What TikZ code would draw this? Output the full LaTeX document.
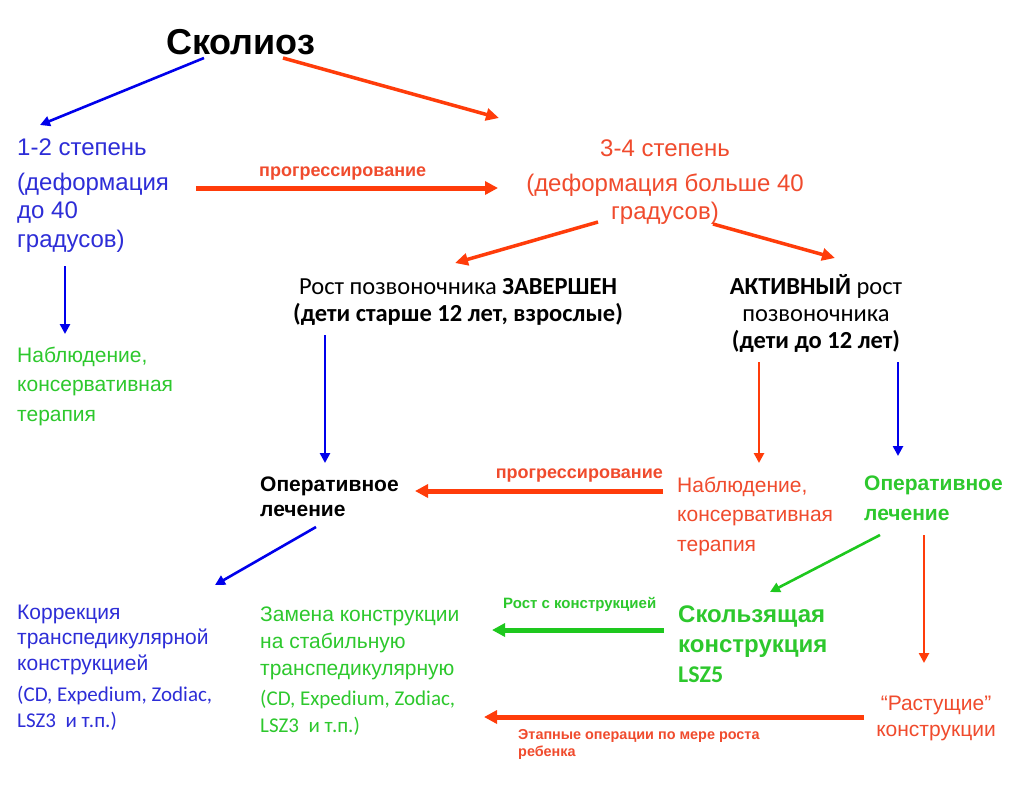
\documentclass[tikz,border=0pt]{standalone}
\usepackage{fontspec}
\setmainfont{Liberation Sans}
\newfontfamily\calibriFont{Carlito}
\usetikzlibrary{arrows.meta}
\definecolor{textBlueColor}{RGB}{45,45,215}
\definecolor{textRedColor}{RGB}{240,75,45}
\definecolor{textGreenColor}{RGB}{45,200,45}
\definecolor{arrowBlueColor}{RGB}{0,0,235}
\definecolor{arrowRedColor}{RGB}{255,60,10}
\definecolor{arrowGreenColor}{RGB}{30,200,30}
\newcommand{\sizeFont}[2]{\fontsize{#1}{#2}\selectfont}
\tikzstyle{slide} = [x = 1pt, y = -1pt, every node/.style={inner sep = 0, anchor = base west, align = left}]
\tikzstyle{titleText} = [font=\sizeFont{36}{40}\bfseries]
\tikzstyle{blueText} = [color=textBlueColor]
\tikzstyle{redText} = [color=textRedColor]
\tikzstyle{greenText} = [color=textGreenColor]
\tikzstyle{arrowLabel} = [font=\sizeFont{15}{17}\bfseries]
\tikzstyle{wideArrow} = [line width = 5pt, -{Triangle[length = 13pt, width = 13pt]}]
\tikzstyle{mediumArrow} = [line width = 3.5pt, -{Triangle[length = 13pt, width = 12pt]}]
\tikzstyle{thinArrow} = [line width = 2.6pt, -{Triangle[length = 10pt, width = 10pt]}]
\newcommand{\flowArrow}[4]{\draw [#1, draw = #2, fill = #2] (#3) -- (#4);}

\begin{document}
\begin{tikzpicture}[slide]
  \useasboundingbox [fill = white] (0,0) rectangle (1024,788);

  % texts (multi-line nodes sit on the baseline of their last line)
  \node [titleText] (title) at (166,54) {Сколиоз};
  \node [blueText, font=\sizeFont{24}{28.5}] (gradeLow) at (17,247)
    {1-2 степень\\[6pt](деформация\\до 40\\градусов)};
  \node [redText, font=\sizeFont{24}{28}, anchor = base, align = center] (gradeHigh) at (665,219)
    {3-4 степень\\[7pt](деформация больше 40\\градусов)};
  \node [font=\calibriFont\sizeFont{24.5}{27}, anchor = base, align = center] (spineDone) at (458,321)
    {Рост позвоночника \textbf{ЗАВЕРШЕН}\\\textbf{(дети старше 12 лет, взрослые)}};
  \node [font=\calibriFont\sizeFont{24.5}{27}, anchor = base, align = center] (spineActive) at (816,348)
    {\textbf{АКТИВНЫЙ} рост\\позвоночника\\\textbf{(дети до 12 лет)}};
  \node [greenText, font=\sizeFont{21}{29.5}] (watchLow) at (17,421)
    {Наблюдение,\\консервативная\\терапия};
  \node [font=\sizeFont{21}{25}\bfseries] (surgeryDone) at (260,516)
    {Оперативное\\лечение};
  \node [redText, font=\sizeFont{21}{29.5}] (watchActive) at (677,551)
    {Наблюдение,\\консервативная\\терапия};
  \node [greenText, font=\sizeFont{21}{30}\bfseries] (surgeryActive) at (864,520)
    {Оперативное\\лечение};
  \node [blueText, font=\sizeFont{21}{25.5}] (fixCorrection) at (17,727)
    {Коррекция\\транспедикулярной\\конструкцией\\[6pt]\calibriFont\sizeFont{21}{25}(CD, Expedium, Zodiac,\\\calibriFont\sizeFont{21}{25}LSZ3 \ и т.п.)};
  \node [greenText, font=\sizeFont{21}{27}] (fixReplace) at (260,732)
    {Замена конструкции\\на стабильную\\транспедикулярную\\[3pt]\calibriFont\sizeFont{21}{27}(CD, Expedium, Zodiac,\\\calibriFont\sizeFont{21}{27}LSZ3 \ и т.п.)};
  \node [greenText, font=\sizeFont{24}{30}\bfseries] (slideFix) at (678,682)
    {Скользящая\\конструкция\\\calibriFont\bfseries\sizeFont{24}{30}LSZ5};
  \node [redText, font=\sizeFont{21}{26}, anchor = base, align = center] (growFix) at (936,736)
    {“Растущие”\\конструкции};

  % arrow labels
  \node [redText, arrowLabel, font=\sizeFont{18}{20}\bfseries] (progressTop) at (259,176) {прогрессирование};
  \node [redText, arrowLabel, font=\sizeFont{18}{20}\bfseries, anchor = base east] (progressMid) at (663,478) {прогрессирование};
  \node [greenText, arrowLabel] (growWith) at (503,608) {Рост с конструкцией};
  \node [redText, arrowLabel, font=\sizeFont{14.4}{17}\bfseries] (stageOps) at (518,756)
    {Этапные операции по мере роста\\ребенка};

  % arrow ends
  \coordinate (titleLeft) at (204,58);
  \coordinate (titleRight) at (283,58);
  \coordinate (lowTop) at (40,125);
  \coordinate (highTop) at (499,118);
  \coordinate (progressStart) at (196,188);
  \coordinate (progressEnd) at (498,188);
  \coordinate (highLeft) at (598,222);
  \coordinate (highRight) at (713,224);
  \coordinate (doneTop) at (455,263);
  \coordinate (activeTop) at (835,258);
  \coordinate (lowBottom) at (65,266);
  \coordinate (watchLowTop) at (65,334);
  \coordinate (doneBottom) at (325,335);
  \coordinate (surgeryDoneTop) at (325,463);
  \coordinate (activeBottomLeft) at (759,362);
  \coordinate (watchActiveTop) at (759,463);
  \coordinate (activeBottomRight) at (898,362);
  \coordinate (surgeryActiveTop) at (898,456);
  \coordinate (watchActiveLeft) at (663,491);
  \coordinate (surgeryDoneRight) at (415,491);
  \coordinate (surgeryDoneBottom) at (316,527);
  \coordinate (correctionTop) at (215,585);
  \coordinate (surgeryActiveLeft) at (880,535);
  \coordinate (slideTop) at (770,592);
  \coordinate (surgeryActiveRight) at (924,535);
  \coordinate (growTop) at (924,663);
  \coordinate (slideLeft) at (664,630);
  \coordinate (replaceRight) at (492,630);
  \coordinate (growLeft) at (864,717);
  \coordinate (replaceLow) at (484,717);

  % arrows
  \flowArrow{thinArrow}{arrowBlueColor}{titleLeft}{lowTop}
  \flowArrow{mediumArrow}{arrowRedColor}{titleRight}{highTop}
  \flowArrow{wideArrow}{arrowRedColor}{progressStart}{progressEnd}
  \flowArrow{mediumArrow}{arrowRedColor}{highLeft}{doneTop}
  \flowArrow{mediumArrow}{arrowRedColor}{highRight}{activeTop}
  \flowArrow{thinArrow}{arrowBlueColor}{lowBottom}{watchLowTop}
  \flowArrow{thinArrow}{arrowBlueColor}{doneBottom}{surgeryDoneTop}
  \flowArrow{thinArrow}{arrowRedColor}{activeBottomLeft}{watchActiveTop}
  \flowArrow{thinArrow}{arrowBlueColor}{activeBottomRight}{surgeryActiveTop}
  \flowArrow{wideArrow}{arrowRedColor}{watchActiveLeft}{surgeryDoneRight}
  \flowArrow{thinArrow}{arrowBlueColor}{surgeryDoneBottom}{correctionTop}
  \flowArrow{thinArrow}{arrowGreenColor}{surgeryActiveLeft}{slideTop}
  \flowArrow{thinArrow}{arrowRedColor}{surgeryActiveRight}{growTop}
  \flowArrow{wideArrow}{arrowGreenColor}{slideLeft}{replaceRight}
  \flowArrow{wideArrow}{arrowRedColor}{growLeft}{replaceLow}
\end{tikzpicture}
\end{document}
